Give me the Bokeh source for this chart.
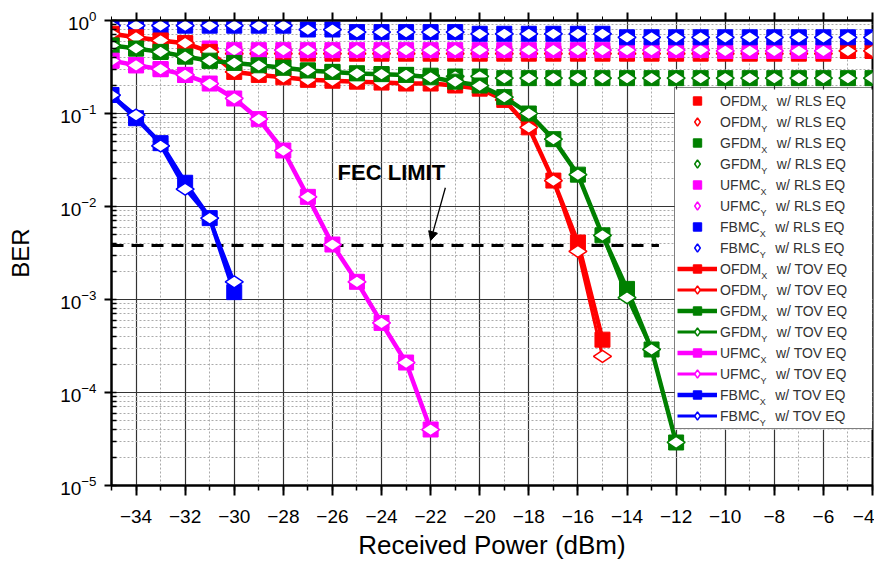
import math
from bokeh.plotting import figure
from bokeh.models import (Legend, LegendItem, Label, Arrow, NormalHead, BoxAnnotation,
                          SingleIntervalTicker, LinearAxis, CustomJSTickFormatter, LogTicker)
from bokeh.embed import file_html
from bokeh.resources import INLINE

NaN = float("nan")

# ---------------- data ----------------
x_rls = list(range(-35, -3))  # -35 .. -4

ofdm_rls = [0.72, 0.66, 0.61, 0.57, 0.46] + [0.44] * 25 + [0.47, 0.47]
gfdm_rls = [0.54, 0.50, 0.46, 0.41, 0.37, 0.35, 0.33, 0.31, 0.29, 0.28, 0.27, 0.265,
            0.26, 0.255, 0.25, 0.25] + [0.24] * 16
ufmc_rls = [0.37, 0.33, 0.30, 0.26, 0.50] + [0.48] * 20 + [0.47] * 5 + [NaN, NaN]
fbmc_rls = [0.88] * 8 + [0.80] * 2 + [0.75] * 5 + [0.72] * 6 + [0.66] * 11

x_ofdm = list(range(-35, -14))
ofdm_x = [0.72, 0.66, 0.61, 0.57, 0.46, 0.28, 0.26, 0.245, 0.23, 0.225, 0.22, 0.215,
          0.21, 0.21, 0.20, 0.185, 0.14, 0.071, 0.019, 0.0041, 0.00037]
ofdm_y = [0.72, 0.66, 0.61, 0.57, 0.46, 0.28, 0.26, 0.245, 0.23, 0.225, 0.22, 0.215,
          0.21, 0.21, 0.20, 0.185, 0.14, 0.071, 0.019, 0.0033, 0.000245]

x_gfdm = list(range(-35, -11))
gfdm_x = [0.54, 0.50, 0.46, 0.41, 0.37, 0.35, 0.33, 0.31, 0.29, 0.28, 0.27, 0.265,
          0.26, 0.245, 0.22, 0.20, 0.15, 0.10, 0.053, 0.022, 0.0049, 0.0013, 0.00029, 0.000029]
gfdm_y = [0.54, 0.50, 0.46, 0.41, 0.37, 0.35, 0.33, 0.31, 0.29, 0.28, 0.27, 0.265,
          0.26, 0.245, 0.22, 0.20, 0.15, 0.10, 0.053, 0.022, 0.0049, 0.00105, 0.00029, 0.000029]

x_ufmc = list(range(-35, -21))
ufmc_x = [0.37, 0.33, 0.30, 0.26, 0.21, 0.145, 0.087, 0.040, 0.0127, 0.0039,
          0.00155, 0.00056, 0.00021, 0.00004]
ufmc_y = ufmc_x

x_fbmc = list(range(-35, -29))
fbmc_x = [0.158, 0.089, 0.048, 0.018, 0.0075, 0.0012]
fbmc_y = [0.158, 0.096, 0.045, 0.0154, 0.0075, 0.00155]

fec_x = [-35, -12.7]
fec_ber = 3.8e-3
fec_text_pos = (-23.6, 0.023)
fec_arrow = (-21.4, 0.0159, -22.0, 0.0043)

schemes = ["OFDM", "GFDM", "UFMC", "FBMC"]
colors = {"OFDM": "#FF0000", "GFDM": "#008000", "UFMC": "#FF00FF", "FBMC": "#0000FF"}
rls = {"OFDM": ofdm_rls, "GFDM": gfdm_rls, "UFMC": ufmc_rls, "FBMC": fbmc_rls}
tov = {"OFDM": (x_ofdm, ofdm_x, ofdm_y), "GFDM": (x_gfdm, gfdm_x, gfdm_y),
       "UFMC": (x_ufmc, ufmc_x, ufmc_y), "FBMC": (x_fbmc, fbmc_x, fbmc_y)}

FONT = "Liberation Sans"

p = figure(width=874, height=562, y_axis_type="log", x_range=(-35, -4), y_range=(1e-5, 1),
           output_backend="svg", toolbar_location=None,
           min_border_left=111, min_border_right=2, min_border_top=20, min_border_bottom=76)

p.outline_line_color = "black"
p.outline_line_width = 2

xt = SingleIntervalTicker(interval=2, num_minor_ticks=2)
p.xaxis.ticker = xt
p.xgrid.ticker = xt
p.yaxis.ticker = LogTicker(mantissas=[1], desired_num_ticks=6, num_minor_ticks=10)

for g in (p.xgrid[0], p.ygrid[0]):
    g.grid_line_color = "#333333"
    g.grid_line_width = 1.2
    g.minor_grid_line_color = "#aaaaaa"
    g.minor_grid_line_dash = "2 2"
    g.minor_grid_line_width = 1

for ax in (p.xaxis[0], p.yaxis[0]):
    ax.axis_line_width = 2
    ax.major_tick_line_width = 2
    ax.minor_tick_line_width = 1.5
    ax.major_label_text_font = FONT
    ax.major_label_text_font_size = "19px"
    ax.major_label_text_color = "black"
    ax.axis_label_text_font = FONT
    ax.axis_label_text_font_style = "normal"
    ax.axis_label_text_color = "black"

p.xaxis.axis_label = "Received Power (dBm)"
p.xaxis.axis_label_text_font_size = "26px"
p.xaxis.major_tick_out = 10
p.xaxis.major_tick_in = 0
p.xaxis.minor_tick_out = 5
p.xaxis.minor_tick_in = 0
p.xaxis.major_label_standoff = 14
p.xaxis.axis_label_standoff = 4

p.yaxis.axis_label = "BER"
p.yaxis.axis_label_text_font_size = "24px"
p.yaxis.major_tick_out = 7
p.yaxis.major_tick_in = 0
p.yaxis.minor_tick_out = 0
p.yaxis.minor_tick_in = 5
p.yaxis.major_label_standoff = 8
p.yaxis.axis_label_standoff = 23

top = LinearAxis(ticker=xt, formatter=CustomJSTickFormatter(code="return ''"),
                 major_tick_out=8, major_tick_in=0, minor_tick_out=4, minor_tick_in=0,
                 axis_line_width=2, major_tick_line_width=2, major_label_standoff=0)
p.add_layout(top, "above")

SQ, DI = 15, 18

# ---------------- RLS (markers only) ----------------
rls_items = []
for s in schemes:
    c = colors[s]
    rx = p.scatter(x_rls, rls[s], marker="square", size=SQ, fill_color=c, line_color=c)
    ry = p.scatter(x_rls, rls[s], marker="diamond", size=DI, angle=math.pi / 2,
                   fill_color="white", line_color=c, line_width=1.5)
    rls_items.append((s, "X", "RLS", [rx]))
    rls_items.append((s, "Y", "RLS", [ry]))

# FEC limit
p.line(fec_x, [fec_ber, fec_ber], line_color="black", line_width=3, line_dash="12 8")

tov_items = []
for s in schemes:
    c = colors[s]
    xs, yx, yy = tov[s]
    lx = p.line(xs, yx, line_color=c, line_width=4.5)
    sx = p.scatter(xs, yx, marker="square", size=SQ, fill_color=c, line_color=c)
    ly = p.line(xs, yy, line_color=c, line_width=3)
    sy = p.scatter(xs, yy, marker="diamond", size=DI, angle=math.pi / 2,
                   fill_color="white", line_color=c, line_width=1.5)
    tov_items.append((s, "X", "TOV", [lx, sx]))
    tov_items.append((s, "Y", "TOV", [ly, sy]))

all_items = rls_items + tov_items

# legend: white panel behind, transparent legend on top, subscripts as labels
LEG_X, LEG_Y, LEG_W, LEG_H = 563, 56, 198, 340
p.add_layout(BoxAnnotation(left=LEG_X, right=LEG_X + LEG_W, bottom=LEG_Y, top=LEG_Y + LEG_H,
                           left_units="screen", right_units="screen", bottom_units="screen",
                           top_units="screen", fill_color="white", fill_alpha=1.0,
                           line_color=None, level="glyph"))

legend = Legend(
    items=[LegendItem(label=f"{s}    w/ {eq} EQ", renderers=r) for (s, sub, eq, r) in all_items],
    location=(LEG_X, LEG_Y), glyph_width=40, glyph_height=21, label_height=21, spacing=0,
    padding=2, margin=0, label_standoff=3, label_width=151,
    label_text_font=FONT, label_text_font_size="14px", label_text_color="#333333",
    border_line_color="black", border_line_width=1.5, background_fill_alpha=0.0)
p.add_layout(legend)

name_w = {"OFDM": 41.2, "GFDM": 41.2, "UFMC": 40.4, "FBMC": 39.7}
for i, (s, sub, eq, r) in enumerate(all_items):
    p.add_layout(Label(x=608 + name_w[s] + 0.5, y=382.5 - 21 * i, x_units="screen",
                       y_units="screen", text=sub, text_font=FONT, text_font_size="9px",
                       text_baseline="top", text_color="#333333", level="overlay"))

p.add_layout(Label(x=fec_text_pos[0], y=fec_text_pos[1], text="FEC LIMIT", text_font=FONT,
                   text_font_size="22px", text_font_style="bold", text_align="center",
                   text_baseline="middle", text_color="black"))
p.add_layout(Arrow(end=NormalHead(size=9, fill_color="black", line_color="black"),
                   x_start=fec_arrow[0], y_start=fec_arrow[1], x_end=fec_arrow[2],
                   y_end=fec_arrow[3], line_width=1.3, line_color="black"))

open("out.html", "w").write(file_html(p, INLINE))
